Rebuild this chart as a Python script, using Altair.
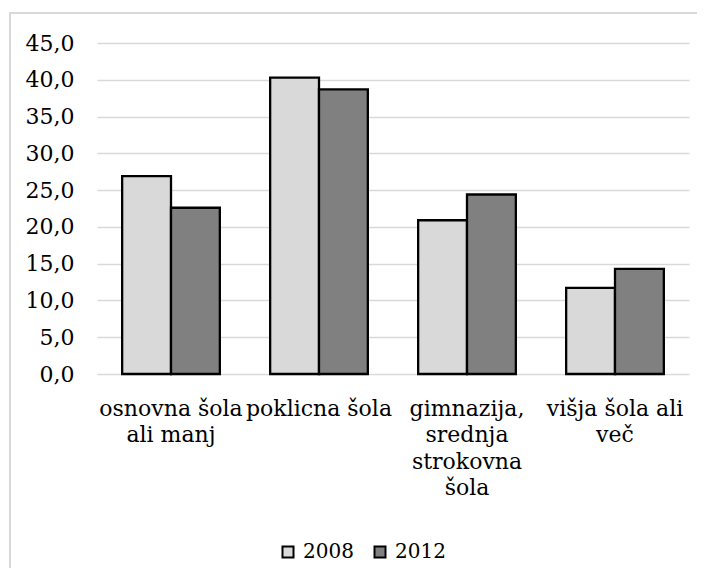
import altair as alt
import pandas as pd

categories = ["osnovna šola ali manj", "poklicna šola", "gimnazija, srednja strokovna šola", "višja šola ali več"]
label_lines = [["osnovna šola", "ali manj"], ["poklicna šola"], ["gimnazija,", "srednja", "strokovna", "šola"], ["višja šola ali", "več"]]
years = ["2008", "2012"]
values_2008 = [26.9, 40.3, 20.9, 11.7]
values_2012 = [22.6, 38.7, 24.4, 14.3]
colors = ["#d9d9d9", "#808080"]
y_ticks = [0, 5, 10, 15, 20, 25, 30, 35, 40, 45]

rows = []
for c, a, b in zip(categories, values_2008, values_2012):
    rows.append({"cat": c, "year": "2008", "val": a})
    rows.append({"cat": c, "year": "2012", "val": b})
df = pd.DataFrame(rows)

expr_parts = []
for c, lines in zip(categories, label_lines):
    arr = "[" + ",".join("'" + l + "'" for l in lines) + "]"
    expr_parts.append(f"datum.value == '{c}' ? {arr} : ")
label_expr = "".join(expr_parts) + "datum.label"

FONT = "DejaVu Serif"
W, H = 592, 331

bars = alt.Chart(df).mark_bar(stroke="black", strokeWidth=2.3).encode(
    x=alt.X("cat:N", sort=categories, title=None,
            scale=alt.Scale(paddingInner=0.34, paddingOuter=0.17),
            axis=alt.Axis(labelAngle=0, ticks=False, domain=False, labelPadding=24,
                          labelFontSize=22, labelFont=FONT, labelColor="black",
                          labelLineHeight=26.5, labelExpr=label_expr, labelLimit=300)),
    xOffset=alt.XOffset("year:N", sort=years, scale=alt.Scale(paddingInner=0, paddingOuter=0)),
    y=alt.Y("val:Q", title=None,
            scale=alt.Scale(domain=[0, 45], nice=False, zero=True),
            axis=alt.Axis(values=y_ticks, ticks=False, domain=False, labelPadding=23,
                          labelFontSize=22, labelFont=FONT, labelColor="black",
                          gridColor="#d9d9d9", gridWidth=1.5,
                          labelExpr="replace(format(datum.value, '.1f'), '.', ',')")),
    color=alt.Color("year:N", sort=years,
                    scale=alt.Scale(domain=years, range=colors),
                    legend=alt.Legend(title=None, orient="none", direction="horizontal",
                                      legendX=181, legendY=499,
                                      symbolType="square", symbolSize=121,
                                      symbolStrokeColor="black", symbolStrokeWidth=2,
                                      symbolOpacity=1,
                                      labelFont=FONT, labelFontSize=20, labelColor="black",
                                      labelOffset=5, columnPadding=16)),
)

frame = alt.Chart(alt.Data(values=[{}])).mark_rect(
    fill="white", fillOpacity=0, stroke="#d9d9d9", strokeWidth=2
).encode(
    x=alt.value(-87), x2=alt.value(700), y=alt.value(-30), y2=alt.value(700)
)

chart = alt.layer(frame, bars).properties(
    width=W, height=H,
    autosize=alt.AutoSizeParams(type="none"),
    padding={"left": 89, "top": 35, "right": 8, "bottom": 194},
).configure_view(stroke=None)

chart.save("out.html", embed_options={"renderer": "svg", "actions": False})
